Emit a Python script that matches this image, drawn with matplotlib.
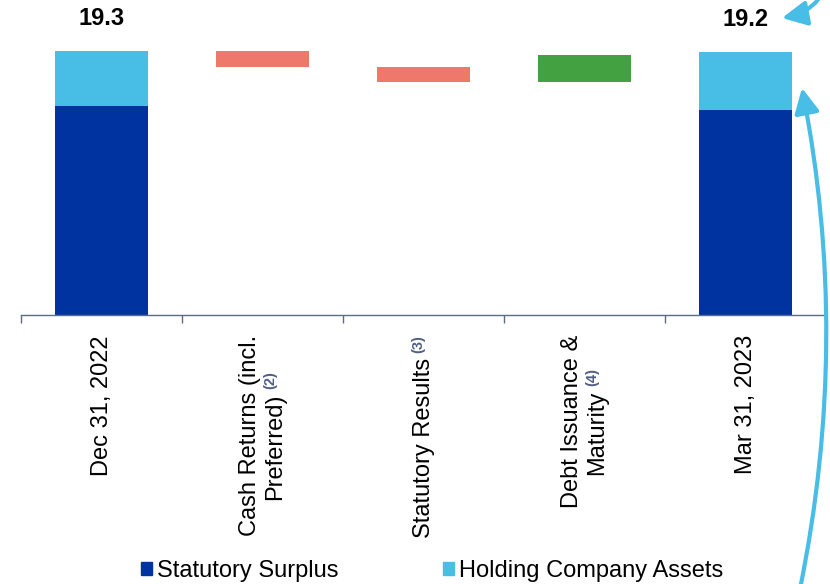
import numpy as np
import matplotlib
matplotlib.use("Agg")
import matplotlib.pyplot as plt
import matplotlib.transforms as transforms
from matplotlib.patches import Patch

plt.rcParams["font.family"] = ["Liberation Sans", "DejaVu Sans"]

# data (in $B)
categories = ["Dec 31, 2022", "Cash Returns (incl.\nPreferred)", "Statutory Results",
              "Debt Issuance &\nMaturity", "Mar 31, 2023"]
footnotes = ["", "(2)", "(3)", "(4)", ""]
surplus = [15.3, 15.0]          # Dec 31, 2022 / Mar 31, 2023
holding = [4.0, 4.2]
changes = [-1.2, -1.1, 2.0]      # the three bridge items
series_names = ["Statutory Surplus", "Holding Company Assets"]

DARK = "#0033A0"
LIGHT = "#48BDE6"
NEG = "#EE7869"
POS = "#43A142"
AXIS_COLOR = "#5B6B8C"
NOTE_COLOR = "#4F5F85"

DPI = 100
fig = plt.figure(figsize=(8.3, 5.84), dpi=DPI)
ax = fig.add_axes([21 / 830, 269 / 584, 805 / 830, 315 / 584])

width = 0.58
ends = [0, len(categories) - 1]

# start and end stacked bars
ax.bar(ends, surplus, width=width, color=DARK)
ax.bar(ends, holding, width=width, bottom=surplus, color=LIGHT)
totals = [s + h for s, h in zip(surplus, holding)]
for x, t in zip(ends, totals):
    ax.annotate(f"{t:.1f}", xy=(x, t), xytext=(0, 23.5), textcoords="offset points",
                ha="center", va="center", fontsize=17, fontweight="bold")

# floating bridge bars
running = totals[0]
for i, d in enumerate(changes, start=1):
    ax.bar(i, abs(d), width=width, bottom=min(running, running + d),
           color=POS if d > 0 else NEG)
    running += d

ax.set_xlim(-0.5, len(categories) - 0.5)
ax.set_ylim(0, 23.03)
for s in ["top", "right", "left"]:
    ax.spines[s].set_visible(False)
ax.spines["bottom"].set_color(AXIS_COLOR)
ax.spines["bottom"].set_linewidth(1.0)
ax.set_yticks([])
ax.set_xticks(np.arange(-0.5, len(categories), 1.0))
ax.set_xticklabels([])
ax.tick_params(axis="x", length=5.8, width=1.0, color=AXIS_COLOR)

# category labels, rotated, with small footnote marks
renderer = fig.canvas.get_renderer()
base = transforms.blended_transform_factory(ax.transData, ax.transAxes)


def px_offset(dx, dy):
    return transforms.ScaledTranslation(dx / DPI, -dy / DPI, fig.dpi_scale_trans)


LABEL_TOP = 20
LINE_STEP = 25
SUP_GAP = 5
for i, (label, note) in enumerate(zip(categories, footnotes)):
    lines = label.split("\n")
    n = len(lines)
    texts = [ax.text(i, 0, s, rotation=90, ha="center", va="top", fontsize=17)
             for s in lines]
    sup = None
    if note:
        sup = ax.text(i, 0, note, rotation=90, ha="center", va="top", fontsize=10.5,
                      fontweight="bold", color=NOTE_COLOR)
    seg = [t.get_window_extent(renderer).height for t in texts]
    sup_len = sup.get_window_extent(renderer).height + SUP_GAP if sup else 0
    seg[-1] += sup_len
    longest = max(seg)
    for k, t in enumerate(texts):
        dx = (k - (n - 1) / 2) * LINE_STEP
        top = LABEL_TOP + (longest - seg[k]) / 2
        if k == n - 1 and sup is not None:
            sup.set_transform(base + px_offset(dx - 5, top))
            top += sup_len
        t.set_transform(base + px_offset(dx, top))

# legend
handles = [Patch(color=DARK), Patch(color=LIGHT)]
fig.legend(handles, series_names, loc="center", bbox_to_anchor=(432 / 830, 13 / 584),
           ncol=2, frameon=False, fontsize=17, handlelength=0.5, handleheight=0.5,
           handletextpad=0.2, columnspacing=4.4)

# callout arrows on the right
arrow = dict(arrowstyle="-|>,head_length=1.0,head_width=0.5", color=LIGHT, lw=3,
             mutation_scale=15, shrinkA=0, shrinkB=0)
ax.annotate("", xy=(782, 566), xycoords="figure pixels", xytext=(830, 622),
            textcoords="figure pixels", annotation_clip=False,
            arrowprops=dict(arrow, connectionstyle="arc3,rad=-0.4"))
ax.annotate("", xy=(802, 496), xycoords="figure pixels", xytext=(800, -5),
            textcoords="figure pixels", annotation_clip=False,
            arrowprops=dict(arrow, connectionstyle="arc3,rad=0.1"))

fig.savefig("out.png", dpi=DPI)
